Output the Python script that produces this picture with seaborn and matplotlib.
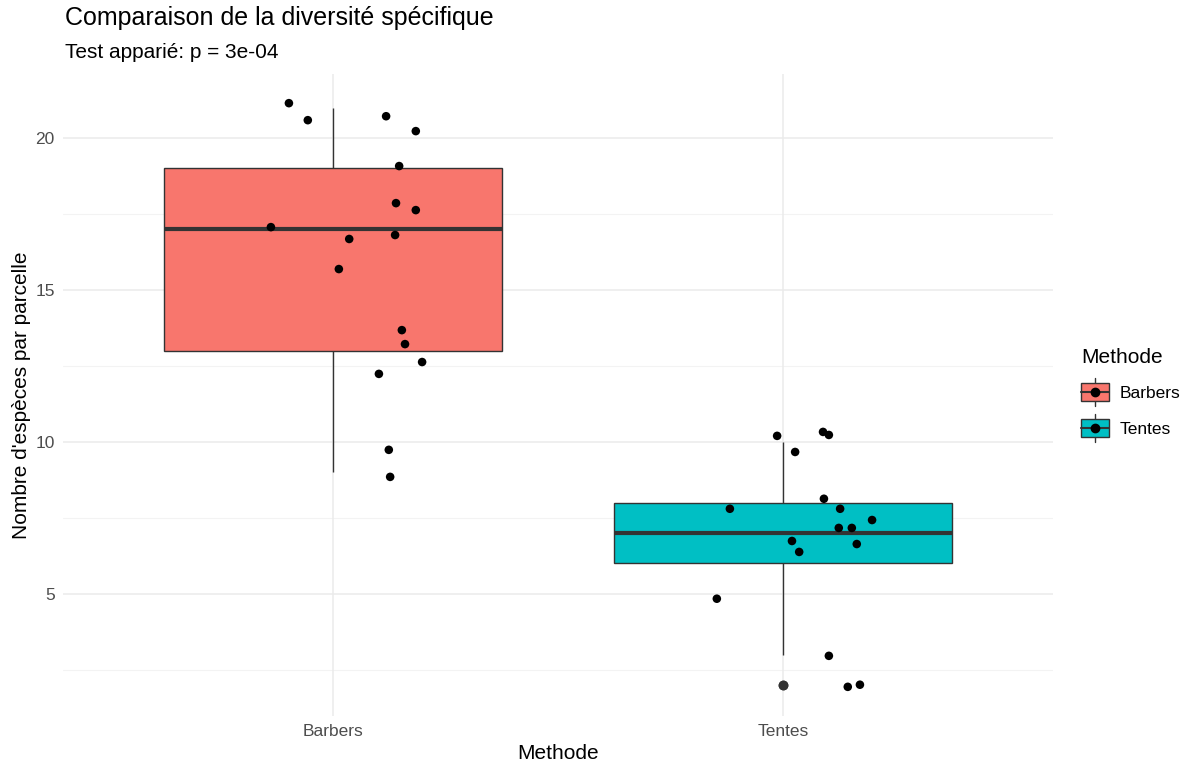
import numpy as np
import pandas as pd
import matplotlib
matplotlib.use("Agg")
import matplotlib.pyplot as plt
from matplotlib.patches import Rectangle, Patch
from matplotlib.lines import Line2D
from matplotlib.legend_handler import HandlerBase
import seaborn as sns

# Species counts per plot for each sampling method (paired design, 17 plots)
methods = ["Barbers", "Tentes"]
barbers_counts = [21, 21, 21, 20, 19, 18, 18, 17, 17, 17, 16, 14, 13, 13, 12, 10, 9]
tentes_counts = [10, 10, 10, 10, 8, 8, 8, 7, 7, 7, 7, 6, 7, 5, 3, 2, 2]

# Jittered positions of the individual points (horizontal offset, jittered value)
barbers_dx = [-0.098, -0.056, 0.118, 0.184, 0.147, 0.140, 0.184, -0.138, 0.138,
              0.036, 0.013, 0.153, 0.160, 0.198, 0.102, 0.124, 0.127]
barbers_y = [21.15, 20.59, 20.72, 20.23, 19.08, 17.86, 17.63, 17.07, 16.81,
             16.68, 15.69, 13.68, 13.22, 12.63, 12.24, 9.74, 8.85]
tentes_dx = [-0.013, 0.027, 0.089, 0.102, 0.091, -0.118, 0.127, 0.124, 0.153,
             0.198, 0.020, 0.036, 0.164, -0.147, 0.102, 0.144, 0.171]
tentes_y = [10.20, 9.67, 10.33, 10.23, 8.13, 7.80, 7.80, 7.17, 7.17,
            7.43, 6.74, 6.38, 6.64, 4.84, 2.96, 1.94, 2.01]

palette = {"Barbers": "#F8766D", "Tentes": "#00BFC4"}
y_ticks = [5, 10, 15, 20]
minor_ticks = [2.5, 7.5, 12.5, 17.5]

df = pd.DataFrame({
    "Methode": ["Barbers"] * len(barbers_counts) + ["Tentes"] * len(tentes_counts),
    "Especes": barbers_counts + tentes_counts,
})
pts = pd.DataFrame({
    "x": [0 + d for d in barbers_dx] + [1 + d for d in tentes_dx],
    "y": barbers_y + tentes_y,
})

sns.set_theme(style="white")
plt.rcParams["font.family"] = ["Liberation Sans", "DejaVu Sans"]
plt.rcParams["text.color"] = "black"
plt.rcParams["axes.labelcolor"] = "black"

fig = plt.figure(figsize=(11.96, 7.69), dpi=100)
ax = fig.add_axes([0.0527, 0.0689, 0.8277, 0.8349])

# grid
for t in y_ticks:
    ax.axhline(t, color="#EBEBEB", lw=1.1, zorder=0)
for t in minor_ticks:
    ax.axhline(t, color="#F3F3F3", lw=0.8, zorder=0)
for i in range(len(methods)):
    ax.axvline(i, color="#EBEBEB", lw=1.1, zorder=0)

sns.boxplot(data=df, x="Methode", y="Especes", hue="Methode", order=methods,
            hue_order=methods, palette=palette, width=0.75, whis=1.5,
            dodge=False, legend=False, saturation=1, ax=ax,
            linecolor="#333333", linewidth=1.0,
            medianprops=dict(color="#333333", linewidth=3.0),
            whiskerprops=dict(color="#333333", linewidth=1.0),
            capprops=dict(linewidth=0),
            flierprops=dict(marker="o", markerfacecolor="#333333",
                            markeredgecolor="#333333", markersize=6))

sns.scatterplot(data=pts, x="x", y="y", color="black", s=38, edgecolor="none",
                ax=ax, zorder=5)

lo, hi = min(pts["y"]), max(pts["y"])
pad = 0.05 * (hi - lo)
ax.set_ylim(lo - pad, hi + pad)
ax.set_xlim(-0.6, len(methods) - 0.4)
ax.set_yticks(y_ticks)
ax.set_xticks(range(len(methods)))
ax.set_xticklabels(methods)
ax.tick_params(axis="both", length=0, labelsize=12.5, colors="#4D4D4D", pad=6)
for s in ax.spines.values():
    s.set_visible(False)
ax.set_xlabel("Methode", fontsize=15, color="black", labelpad=3)
ax.set_ylabel("Nombre d'espèces par parcelle", fontsize=15, color="black", labelpad=3)

fig.text(65 / 1196, 1 - 18 / 769, "Comparaison de la diversité spécifique",
         fontsize=18, va="center", ha="left")
fig.text(65 / 1196, 1 - 52 / 769, "Test apparié: p = 3e-04",
         fontsize=15, va="center", ha="left")


class BoxKey(HandlerBase):
    def create_artists(self, legend, orig_handle, xdescent, ydescent,
                       width, height, fontsize, trans):
        cx = -xdescent + width / 2
        cy = -ydescent + height / 2
        bw, bh = width, height * 0.8
        whisk = Line2D([cx, cx], [cy - height * 0.62, cy + height * 0.62],
                       color="#333333", lw=1.0, transform=trans)
        box = Rectangle((cx - bw / 2, cy - bh / 2), bw, bh,
                        facecolor=orig_handle.get_facecolor(),
                        edgecolor="#333333", lw=1.0, transform=trans)
        med = Line2D([cx - bw / 2, cx + bw / 2], [cy, cy], color="#333333",
                     lw=1.5, transform=trans)
        dot = Line2D([cx], [cy], marker="o", color="black", markersize=6,
                     linestyle="none", transform=trans)
        return [whisk, box, med, dot]


handles = [Patch(facecolor=palette[m]) for m in methods]
leg = fig.legend(handles, methods, handler_map={Patch: BoxKey()},
                 title="Methode", loc="upper left",
                 bbox_to_anchor=(1074 / 1196, 1 - 341 / 769),
                 frameon=False, fontsize=12.5, title_fontsize=15,
                 handlelength=1.6, handleheight=1.6, labelspacing=0.8,
                 handletextpad=0.6, borderaxespad=0)
leg._legend_box.align = "left"

fig.savefig("out.png", dpi=100)
